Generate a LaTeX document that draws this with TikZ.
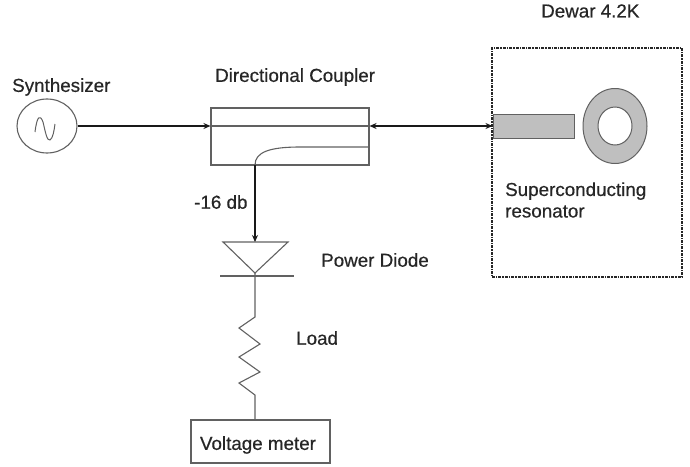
\documentclass[tikz,border=0pt]{standalone}
\usepackage{fontspec}
\setmainfont[RawFeature={embolden=0.5}]{Liberation Sans}
\usetikzlibrary{arrows.meta,shapes.geometric}
\definecolor{ln}{gray}{0.38}
\definecolor{sc}{gray}{0.75}
\tikzset{
  x=1pt,y=-1pt,
  label text/.style={font=\fontsize{18.8}{21.5}\selectfont,text=black!85,inner sep=0pt,anchor=west,align=left},
  thinline/.style={draw=ln,line width=1.1pt},
  sig/.style={draw=black!90,line width=1.5pt},
  tip/.style={-{Stealth[length=7pt,width=6pt]}},
  box/.style={thinline,rectangle,inner sep=0pt,minimum width=#1},
  boxh/.style={minimum height=#1}
}
\begin{document}
\begin{tikzpicture}
\useasboundingbox (0,0) rectangle (690,466);
% labels
\node[label text] (lsyn) at (12,87) {Synthesizer};
\node[label text] (ldc) at (215,77) {Directional Coupler};
\node[label text] (ldw) at (541,11) {Dewar 4.2K};
\node[label text] (lsr) at (505,200) {Superconducting\\resonator};
\node[label text] (l16) at (194,202) {-16 db};
\node[label text] (lpd) at (321,260) {Power Diode};
\node[label text] (llo) at (296,338) {Load};
% synthesizer
\node[ellipse,thinline,minimum width=60pt,minimum height=54pt,inner sep=0pt] (syn) at (47,126) {};
\draw[thinline,line width=1pt] (35,132) .. controls (37,116) and (40,114) .. (43,122) .. controls (45,130) and (47,142) .. (50,140) .. controls (53,138) and (54,131) .. (55,124);
% coupler
\node[box=158pt,boxh=57pt] (dc) at (290,136.5) {};
\coordinate (dcw) at (dc.west |- syn.east);
\coordinate (dce) at (dc.east |- syn.east);
\coordinate (dcb) at (255,165);
\coordinate (dcc) at (369,147);
\draw[thinline] (dcw) -- (dce);
\draw[thinline] (dcc) -- (300,147) .. controls (270,147) and (255,152) .. (dcb);
\draw[sig,tip] (syn.east) -- (dcw);
% dewar
\node[rectangle,draw=black!85,line width=1.4pt,densely dash dot,minimum width=190pt,minimum height=229pt,inner sep=0pt] (dw) at (587,162.5) {};
% resonator
\node[rectangle,fill=sc,draw=ln,line width=1pt,minimum width=81pt,minimum height=24pt,inner sep=0pt] (feed) at (533.5,126) {};
\node[ellipse,fill=sc,draw=ln,line width=1pt,minimum width=64pt,minimum height=75pt,inner sep=0pt] (ring) at (615,126) {};
\node[ellipse,fill=white,draw=ln,line width=1pt,minimum width=34pt,minimum height=38pt,inner sep=0pt] (hole) at (615,126) {};
\draw[sig,{Stealth[length=7pt,width=6pt]}-{Stealth[length=7pt,width=6pt]}] (dce) -- (feed.west);
% diode
\coordinate (dtl) at (223,242);
\coordinate (dtr) at (288,242);
\coordinate (dap) at (255,273);
\coordinate (dtop) at (255,242);
\coordinate (bl) at (220,276);
\coordinate (br) at (294,276);
\coordinate (bc) at (255,276);
\draw[thinline] (dtl) -- (dtr) -- (dap) -- cycle;
\draw[thinline] (bl) -- (br);
\draw[sig,tip] (dcb) -- (dtop);
% load and meter
\node[box=139pt,boxh=43pt] (vm) at (260.5,441.5) {};
\node[text=black!85,inner sep=0pt,font=\fontsize{18.8}{21.5}\selectfont] (vmt) at (258,445) {Voltage meter};
\coordinate (vmt2) at (255,420);
\draw[thinline,line join=miter] (dap) -- (bc) -- (255,317) -- (239,328) -- (260,344) -- (239,357) -- (260,372) -- (239,383) -- (255,395) -- (vmt2);
\end{tikzpicture}
\end{document}
